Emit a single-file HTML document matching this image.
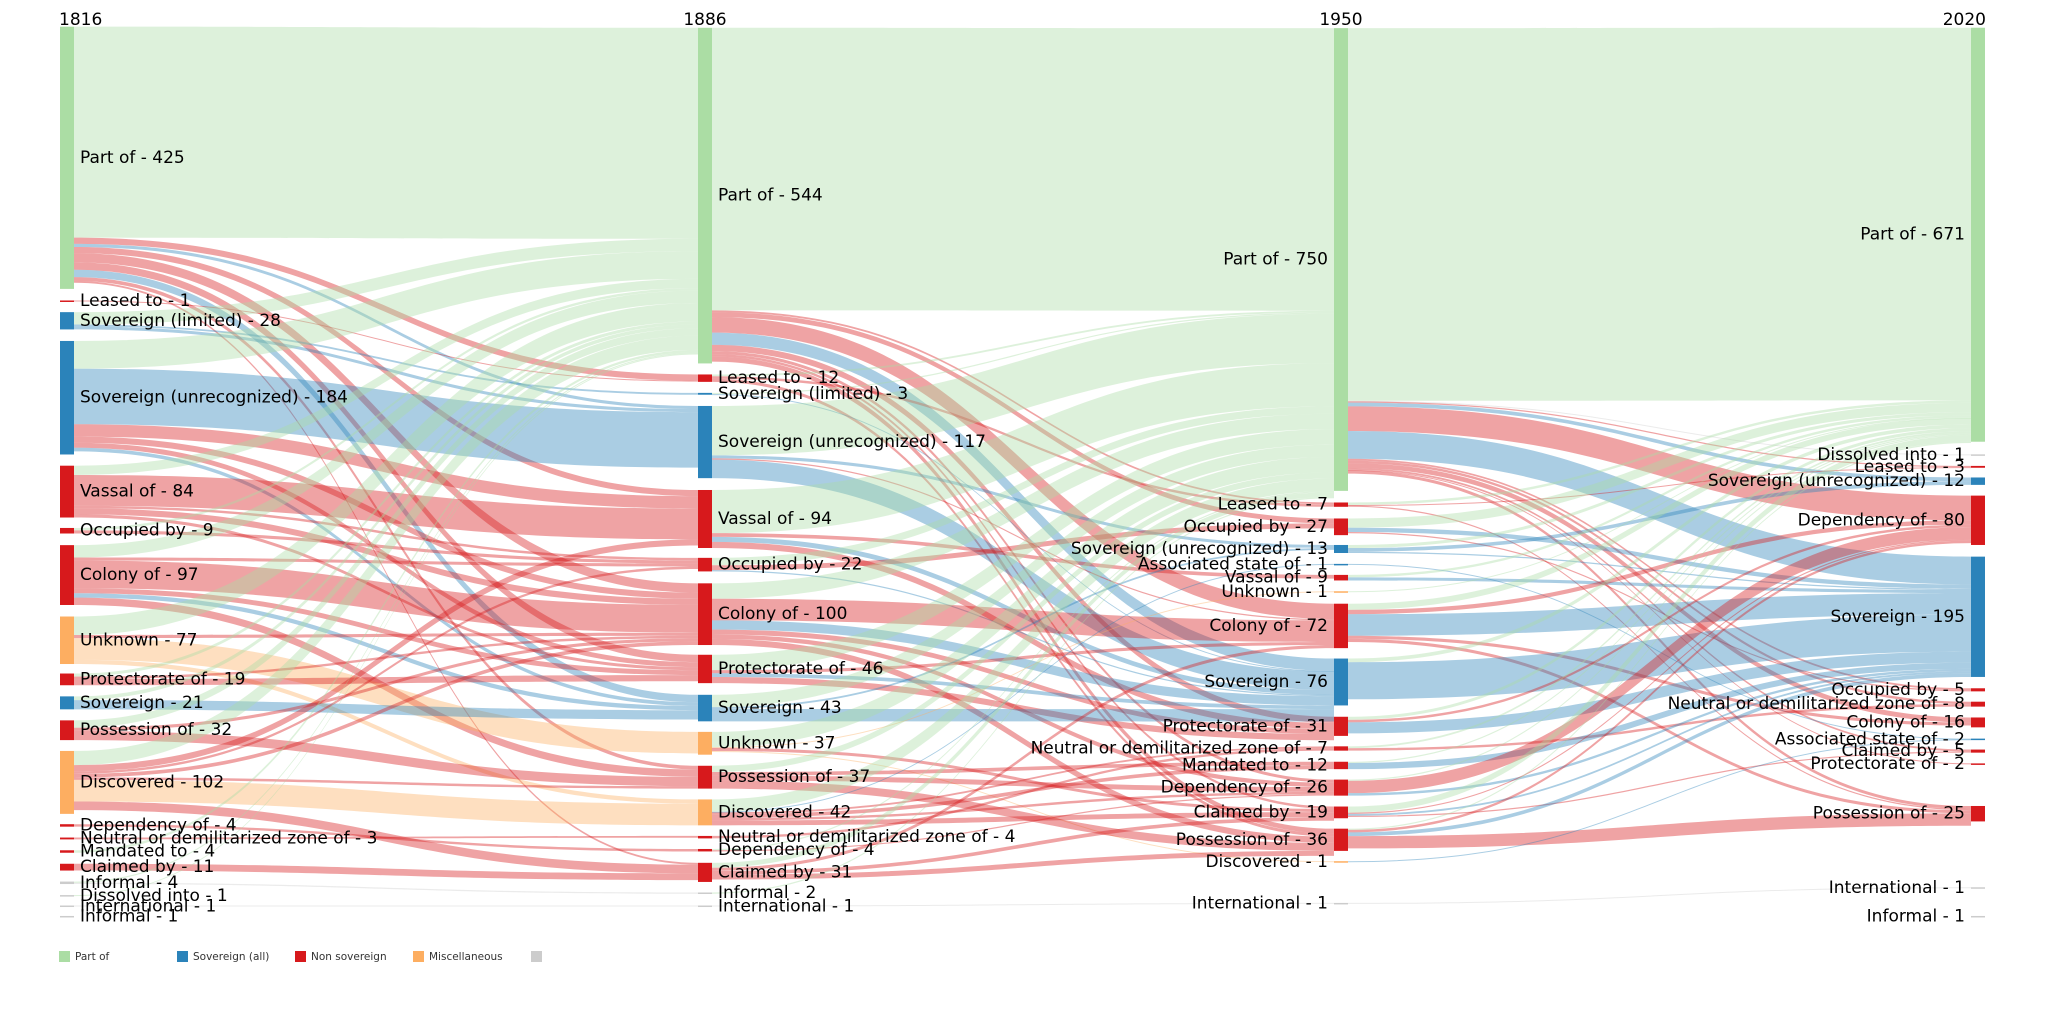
<!DOCTYPE html>
<html><head><meta charset="utf-8">
<style>
html,body{margin:0;padding:0;background:#fff;}
svg{display:block;font-family:"DejaVu Sans","Liberation Sans",sans-serif;}
</style></head>
<body>
<svg id="chart" width="2046" height="1032" viewBox="0 0 2046 1032" xmlns="http://www.w3.org/2000/svg">
<g id="links"></g>
<g id="nodes"></g>
<g id="labels"></g>
<g font-size="17" fill="#000">
<text x="59" y="25">1816</text>
<text x="705" y="25" text-anchor="middle">1886</text>
<text x="1341" y="25" text-anchor="middle">1950</text>
<text x="1986" y="25" text-anchor="end">2020</text>
</g>
<g font-size="10.5" fill="#333">
<rect x="59" y="951" width="11" height="11" fill="#abdda4"/>
<text x="75" y="960">Part of</text>
<rect x="177" y="951" width="11" height="11" fill="#2b83ba"/>
<text x="193" y="960">Sovereign (all)</text>
<rect x="295" y="951" width="11" height="11" fill="#d7191c"/>
<text x="311" y="960">Non sovereign</text>
<rect x="413" y="951" width="11" height="11" fill="#fdae61"/>
<text x="429" y="960">Miscellaneous</text>
<rect x="531" y="951" width="11" height="11" fill="#cccccc"/>
</g>
</svg>
<script>
// ---- data ----
const names0 = ["Part of","Leased to","Sovereign (limited)","Sovereign (unrecognized)","Vassal of","Occupied by","Colony of","Unknown","Protectorate of","Sovereign","Possession of","Discovered","Dependency of","Neutral or demilitarized zone of","Mandated to","Claimed by","Informal","Dissolved into","International","Informal"];
const values0 = [425,1,28,184,84,9,97,77,19,21,32,102,4,3,4,11,4,1,1,1];
const names1 = ["Part of","Leased to","Sovereign (limited)","Sovereign (unrecognized)","Vassal of","Occupied by","Colony of","Protectorate of","Sovereign","Unknown","Possession of","Discovered","Neutral or demilitarized zone of","Dependency of","Claimed by","Informal","International"];
const values1 = [544,12,3,117,94,22,100,46,43,37,37,42,4,4,31,2,1];
const names2 = ["Part of","Leased to","Occupied by","Sovereign (unrecognized)","Associated state of","Vassal of","Unknown","Colony of","Sovereign","Protectorate of","Neutral or demilitarized zone of","Mandated to","Dependency of","Claimed by","Possession of","Discovered","International"];
const values2 = [750,7,27,13,1,9,1,72,76,31,7,12,26,19,36,1,1];
const names3 = ["Part of","Dissolved into","Leased to","Sovereign (unrecognized)","Dependency of","Sovereign","Occupied by","Neutral or demilitarized zone of","Colony of","Associated state of","Claimed by","Protectorate of","Possession of","International","Informal"];
const values3 = [671,1,3,12,80,195,5,8,16,2,5,2,25,1,1];

const links01 = [
["Part of","Part of",342],["Part of","Leased to",10],["Part of","Sovereign (unrecognized)",5],["Part of","Vassal of",10],["Part of","Colony of",15],["Part of","Protectorate of",12],["Part of","Sovereign",12],["Part of","Possession of",6],["Part of","Claimed by",3],
["Leased to","Leased to",1],
["Sovereign (limited)","Part of",20],["Sovereign (limited)","Sovereign (limited)",3],["Sovereign (limited)","Sovereign (unrecognized)",5],
["Sovereign (unrecognized)","Part of",45],["Sovereign (unrecognized)","Sovereign (unrecognized)",90],["Sovereign (unrecognized)","Vassal of",20],["Sovereign (unrecognized)","Colony of",10],["Sovereign (unrecognized)","Protectorate of",8],["Sovereign (unrecognized)","Sovereign",6],
["Vassal of","Part of",15],["Vassal of","Vassal of",50],["Vassal of","Occupied by",4],["Vassal of","Colony of",10],["Vassal of","Protectorate of",5],
["Occupied by","Part of",4],["Occupied by","Occupied by",5],
["Colony of","Part of",20],["Colony of","Occupied by",5],["Colony of","Colony of",45],["Colony of","Protectorate of",8],["Colony of","Sovereign",7],["Colony of","Possession of",12],
["Unknown","Part of",30],["Unknown","Colony of",5],["Unknown","Unknown",35],["Unknown","Discovered",7],
["Protectorate of","Part of",5],["Protectorate of","Colony of",4],["Protectorate of","Protectorate of",10],
["Sovereign","Part of",6],["Sovereign","Sovereign",15],
["Possession of","Part of",12],["Possession of","Colony of",5],["Possession of","Possession of",15],
["Discovered","Part of",23],["Discovered","Vassal of",10],["Discovered","Occupied by",4],["Discovered","Colony of",6],["Discovered","Possession of",4],["Discovered","Discovered",35],["Discovered","Claimed by",14],
["Dependency of","Dependency of",4],["Neutral or demilitarized zone of","Neutral or demilitarized zone of",3],["Mandated to","Part of",4],["Claimed by","Claimed by",11],
["Informal","Part of",2],["Informal","Informal",2],["Dissolved into","Part of",1],["International","International",1]
];
const links12 = [
["Part of","Part of",458],["Part of","Leased to",3],["Part of","Occupied by",8],["Part of","Colony of",25],["Part of","Sovereign",20],["Part of","Protectorate of",10],["Part of","Dependency of",5],["Part of","Claimed by",4],["Part of","Possession of",8],
["Leased to","Part of",3],["Leased to","Leased to",4],["Leased to","Possession of",5],
["Sovereign (limited)","Part of",2],["Sovereign (limited)","Sovereign",1],
["Sovereign (unrecognized)","Part of",80],["Sovereign (unrecognized)","Sovereign (unrecognized)",5],["Sovereign (unrecognized)","Colony of",2],["Sovereign (unrecognized)","Sovereign",30],
["Vassal of","Part of",70],["Vassal of","Vassal of",6],["Vassal of","Sovereign",8],["Vassal of","Protectorate of",10],
["Occupied by","Part of",12],["Occupied by","Occupied by",8],["Occupied by","Sovereign",2],
["Colony of","Part of",25],["Colony of","Colony of",35],["Colony of","Sovereign",15],["Colony of","Protectorate of",8],["Colony of","Dependency of",7],["Colony of","Possession of",10],
["Protectorate of","Part of",25],["Protectorate of","Colony of",5],["Protectorate of","Sovereign",6],["Protectorate of","Protectorate of",10],
["Sovereign","Part of",20],["Sovereign","Sovereign (unrecognized)",3],["Sovereign","Sovereign",20],
["Unknown","Part of",25],["Unknown","Unknown",1],["Unknown","Claimed by",5],["Unknown","Discovered",1],
["Possession of","Part of",10],["Possession of","Mandated to",6],["Possession of","Dependency of",8],["Possession of","Possession of",13],
["Discovered","Part of",20],["Discovered","Associated state of",1],["Discovered","Neutral or demilitarized zone of",3],["Discovered","Mandated to",6],["Discovered","Dependency of",4],["Discovered","Claimed by",8],
["Neutral or demilitarized zone of","Neutral or demilitarized zone of",4],
["Dependency of","Part of",2],["Dependency of","Dependency of",2],
["Claimed by","Part of",8],["Claimed by","Colony of",5],["Claimed by","Claimed by",6],["Claimed by","Possession of",8],
["Informal","Part of",2],["International","International",1]
];
const links23 = [
["Part of","Part of",604],["Part of","Dissolved into",1],["Part of","Leased to",2],["Part of","Sovereign (unrecognized)",6],["Part of","Dependency of",40],["Part of","Sovereign",45],["Part of","Occupied by",3],["Part of","Neutral or demilitarized zone of",4],["Part of","Colony of",8],["Part of","Claimed by",3],["Part of","Protectorate of",1],["Part of","Possession of",5],
["Leased to","Part of",4],["Leased to","Leased to",1],["Leased to","Possession of",2],
["Occupied by","Part of",15],["Occupied by","Sovereign",7],["Occupied by","Occupied by",2],
["Sovereign (unrecognized)","Part of",5],["Sovereign (unrecognized)","Sovereign (unrecognized)",6],["Sovereign (unrecognized)","Sovereign",2],
["Associated state of","Associated state of",1],
["Vassal of","Part of",4],["Vassal of","Sovereign",5],["Unknown","Part of",1],
["Colony of","Part of",10],["Colony of","Dependency of",7],["Colony of","Sovereign",35],["Colony of","Colony of",5],["Colony of","Possession of",5],
["Sovereign","Part of",6],["Sovereign","Sovereign",60],
["Protectorate of","Part of",5],["Protectorate of","Dependency of",4],["Protectorate of","Sovereign",18],
["Neutral or demilitarized zone of","Part of",3],["Neutral or demilitarized zone of","Neutral or demilitarized zone of",4],
["Mandated to","Part of",2],["Mandated to","Sovereign",10],
["Dependency of","Part of",2],["Dependency of","Dependency of",20],["Dependency of","Sovereign",4],
["Claimed by","Part of",10],["Claimed by","Dependency of",2],["Claimed by","Sovereign",3],["Claimed by","Claimed by",2],
["Possession of","Part of",2],["Possession of","Dependency of",4],["Possession of","Sovereign",6],["Possession of","Possession of",20],
["Discovered","Associated state of",1],["International","International",1]
];

// ---- layout (not data) ----
const S = 1.304, K = 0.617, NW = 14;
const colX = [60, 698, 1334, 1971];
const centers = [
 [121,231,246,305,377,407,441,491,521,539,560,600,633,643,653,665,677,687,695,703],
 [150,290,302,339,398,433,471,513,543,570,596,623,642,652,669,685,695],
 [199,387,404,421,433,443,454,480,523,557,574,587,604,623,644,661,693],
 [180,349,358,369,399,473,529,540,554,567,576,586,624,681,703]
];
const allNames=[names0,names1,names2,names3], allVals=[values0,values1,values2,values3], allLinks=[links01,links12,links23];

function cat(n){
 if(n==="Part of") return "part";
 if(n.startsWith("Sovereign")||n==="Associated state of") return "sov";
 if(n==="Unknown"||n==="Discovered") return "misc";
 if(n==="Informal"||n==="International"||n==="Dissolved into") return "other";
 return "non";
}
const col={part:"#abdda4",sov:"#2b83ba",non:"#d7191c",misc:"#fdae61",other:"#cccccc"};
const NS="http://www.w3.org/2000/svg";
function slug(s){return s.toLowerCase().replace(/[^a-z0-9]+/g,'-').replace(/-$/,'');}

const nodes = allNames.map((names,c)=>names.map((n,i)=>{
 const h=Math.max(allVals[c][i]*K,1.5);
 const cy=centers[c][i]*S;
 return {name:n,c,i,v:allVals[c][i],x:colX[c],y0:cy-h/2,h,cy};
}));
function find(c,n){return nodes[c].find(d=>d.name===n);}

const gL=document.getElementById('links');
allLinks.forEach((links,c)=>{
 const L=links.map(l=>({s:find(c,l[0]),t:find(c+1,l[1]),v:l[2]}));
 nodes[c].forEach(nd=>{
  let off=nd.y0;
  L.filter(l=>l.s===nd).sort((a,b)=>a.t.cy-b.t.cy).forEach(l=>{l.sy=off;off+=l.v*K;});
 });
 nodes[c+1].forEach(nd=>{
  let off=nd.y0;
  L.filter(l=>l.t===nd).sort((a,b)=>a.s.cy-b.s.cy).forEach(l=>{l.ty=off;off+=l.v*K;});
 });
 L.forEach(l=>{
  const w=Math.max(l.v*K,1);
  const x0=l.s.x+NW, x1=l.t.x, xm=(x0+x1)/2;
  const a=l.sy, b=l.ty;
  const p=document.createElementNS(NS,'path');
  p.setAttribute('d',`M${x0},${a}C${xm},${a} ${xm},${b} ${x1},${b}L${x1},${b+w}C${xm},${b+w} ${xm},${a+w} ${x0},${a+w}Z`);
  p.setAttribute('fill',col[cat(l.t.name)]);
  p.setAttribute('fill-opacity','0.4');
  
  
  gL.appendChild(p);
 });
});

const gN=document.getElementById('nodes'), gT=document.getElementById('labels');
nodes.forEach((arr,c)=>arr.forEach(nd=>{
 const r=document.createElementNS(NS,'rect');
 r.setAttribute('x',nd.x);r.setAttribute('y',nd.y0);r.setAttribute('width',NW);r.setAttribute('height',nd.h);
 r.setAttribute('fill',col[cat(nd.name)]);
 
 
 gN.appendChild(r);
 const t=document.createElementNS(NS,'text');
 t.textContent=nd.name+' - '+nd.v;
 t.setAttribute('font-size','17');
 t.setAttribute('dominant-baseline','central');
 t.setAttribute('y',nd.cy);
 if(c<2){t.setAttribute('x',nd.x+NW+6);}else{t.setAttribute('x',nd.x-6);t.setAttribute('text-anchor','end');}
 
 
 gT.appendChild(t);
}));
</script>
</body></html>
